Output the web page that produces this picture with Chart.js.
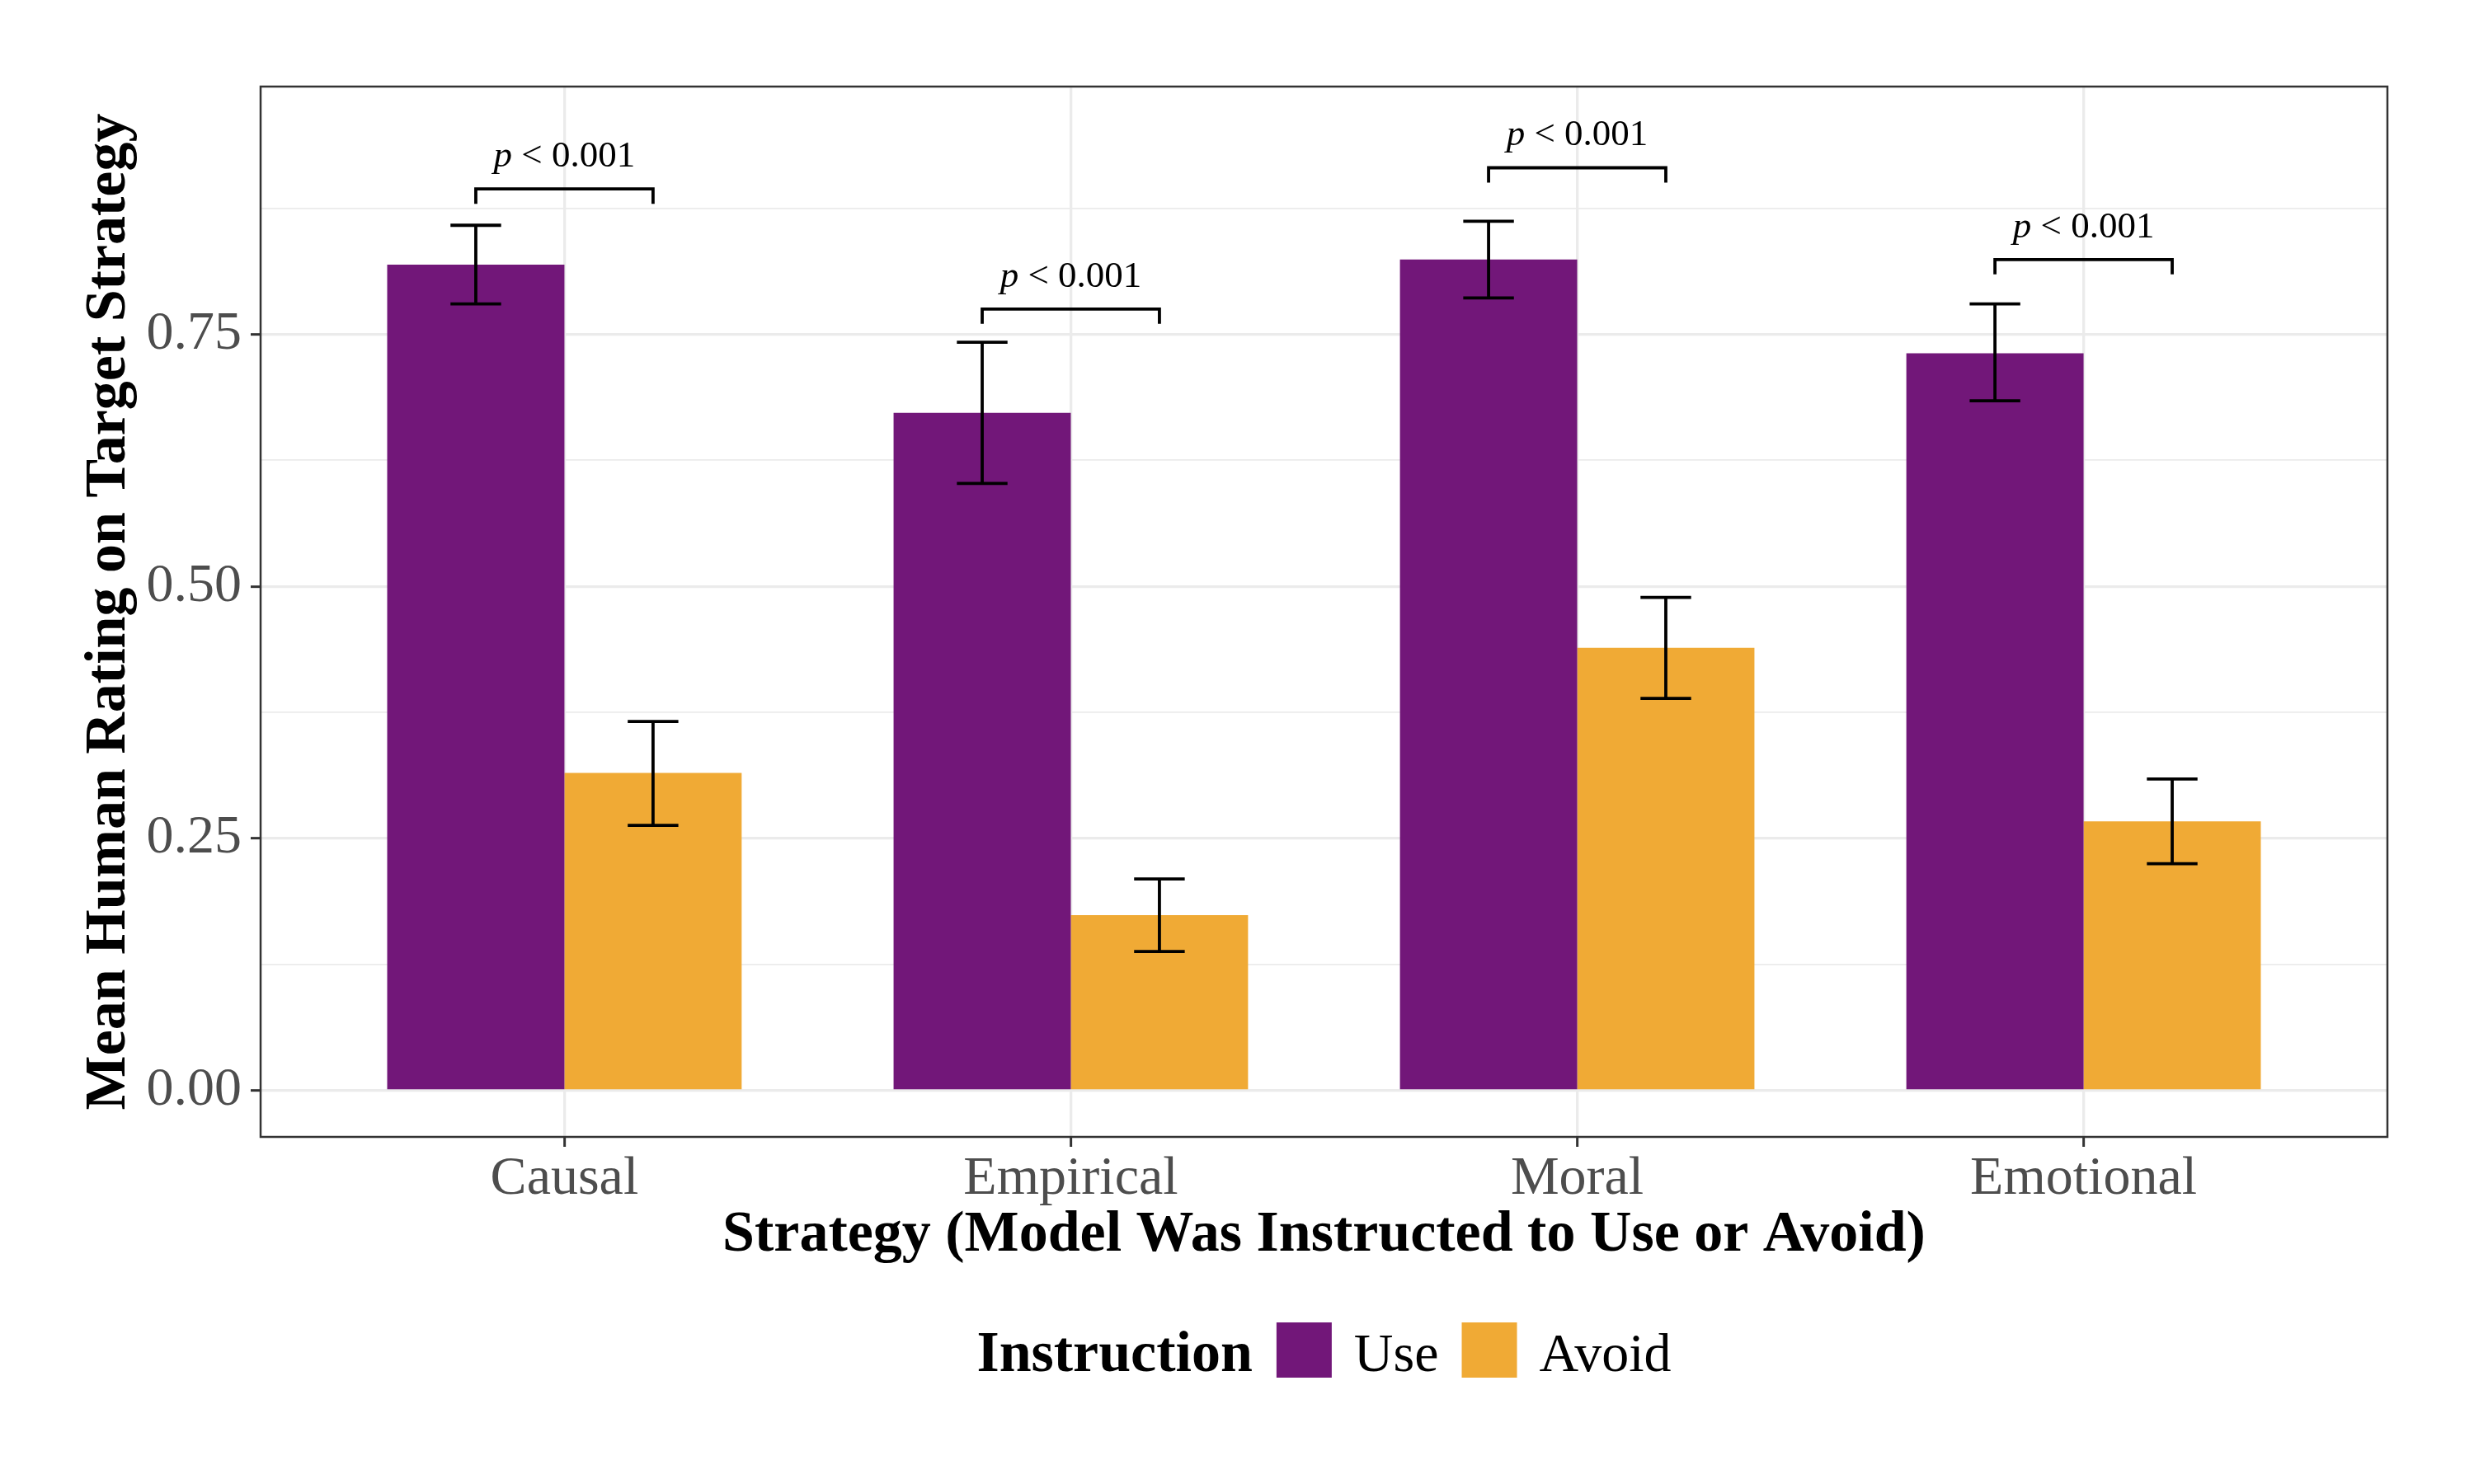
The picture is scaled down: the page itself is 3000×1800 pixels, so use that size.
<!DOCTYPE html>
<html lang="en">

<head>
    <meta charset="UTF-8">
    <title>Mean Human Rating on Target Strategy</title>
    <script src="https://cdn.jsdelivr.net/npm/chart.js"></script>
    <style>
        html, body { margin: 0; padding: 0; background: #ffffff; }
        #ratingChart { display: block; }
    </style>
</head>

<body>
    <canvas id="ratingChart" width="3000" height="1800" style="width:3000px;height:1800px"></canvas>

    <script>
        // values
        const categories = ['Causal', 'Empirical', 'Moral', 'Emotional'];
        const useMeans = [0.819, 0.672, 0.824, 0.731];
        const useLower = [0.780, 0.602, 0.786, 0.684];
        const useUpper = [0.858, 0.742, 0.862, 0.780];
        const avoidMeans = [0.315, 0.174, 0.439, 0.267];
        const avoidLower = [0.263, 0.138, 0.389, 0.225];
        const avoidUpper = [0.366, 0.210, 0.489, 0.309];
        const bracketY = [0.894, 0.775, 0.915, 0.824];
        const pText = ['< 0.001', '< 0.001', '< 0.001', '< 0.001'];
        const yTicks = [0, 0.125, 0.25, 0.375, 0.5, 0.625, 0.75, 0.875];
        const seriesNames = ['Use', 'Avoid'];
        const seriesColors = ['#721779', '#F0AA35'];

        const serif = "'Liberation Serif', 'Times New Roman', serif";
        Chart.defaults.font.family = serif;

        const isMajor = v => Math.abs(v * 4 - Math.round(v * 4)) < 1e-6;

        // error bars + significance brackets
        const annotations = {
            id: 'annotations',
            afterDatasetsDraw(chart) {
                const { ctx, scales: { x, y } } = chart;
                const dodge = 0.175, cap = 0.05;
                ctx.save();
                ctx.strokeStyle = '#000000';
                ctx.lineWidth = 3.8;
                ctx.lineCap = 'butt';
                const errBar = (xv, lo, hi) => {
                    const xc = x.getPixelForValue(xv);
                    const x0 = x.getPixelForValue(xv - cap), x1 = x.getPixelForValue(xv + cap);
                    const yl = y.getPixelForValue(lo), yh = y.getPixelForValue(hi);
                    ctx.beginPath();
                    ctx.moveTo(xc, yl); ctx.lineTo(xc, yh);
                    ctx.moveTo(x0, yl); ctx.lineTo(x1, yl);
                    ctx.moveTo(x0, yh); ctx.lineTo(x1, yh);
                    ctx.stroke();
                };
                categories.forEach((c, i) => {
                    errBar(i + 1 - dodge, useLower[i], useUpper[i]);
                    errBar(i + 1 + dodge, avoidLower[i], avoidUpper[i]);

                    const bl = x.getPixelForValue(i + 1 - dodge);
                    const br = x.getPixelForValue(i + 1 + dodge);
                    const by = y.getPixelForValue(bracketY[i]);
                    ctx.beginPath();
                    ctx.moveTo(bl, by + 18); ctx.lineTo(bl, by);
                    ctx.lineTo(br, by); ctx.lineTo(br, by + 18);
                    ctx.stroke();

                    // "p < 0.001" with italic p
                    const it = 'italic 45px ' + serif, rg = '45px ' + serif;
                    ctx.font = it;
                    const wp = ctx.measureText('p').width;
                    ctx.font = rg;
                    const rest = ' ' + pText[i];
                    const wr = ctx.measureText(rest).width;
                    const cx = x.getPixelForValue(i + 1);
                    let tx = cx - (wp + wr) / 2;
                    ctx.fillStyle = '#000000';
                    ctx.textBaseline = 'alphabetic';
                    ctx.textAlign = 'left';
                    ctx.font = it;
                    ctx.fillText('p', tx, by - 27);
                    ctx.font = rg;
                    ctx.fillText(rest, tx + wp, by - 27);
                });
                ctx.restore();
            },
            afterDraw(chart) {
                const { ctx, chartArea: a } = chart;
                ctx.save();
                // panel border
                ctx.strokeStyle = '#333333';
                ctx.lineWidth = 2.5;
                ctx.strokeRect(a.left, a.top, a.right - a.left, a.bottom - a.top);

                // legend: title + keys, centred under the panel
                const box = 67, gapTitle = 29, gapText = 27, gapItem = 28;
                ctx.font = 'bold 70px ' + serif;
                const wt = ctx.measureText('Instruction').width;
                ctx.font = '66px ' + serif;
                const wl = seriesNames.map(n => ctx.measureText(n).width);
                let total = wt + gapTitle;
                wl.forEach((w, k) => { total += box + gapText + w + (k < wl.length - 1 ? gapItem : 0); });
                let lx = (a.left + a.right) / 2 - total / 2;
                const baseY = 1663, boxTop = 1604;
                ctx.fillStyle = '#000000';
                ctx.textAlign = 'left';
                ctx.textBaseline = 'alphabetic';
                ctx.font = 'bold 70px ' + serif;
                ctx.fillText('Instruction', lx, baseY);
                lx += wt + gapTitle;
                ctx.font = '66px ' + serif;
                seriesNames.forEach((n, k) => {
                    ctx.fillStyle = seriesColors[k];
                    ctx.fillRect(lx, boxTop, box, box);
                    lx += box + gapText;
                    ctx.fillStyle = '#000000';
                    ctx.fillText(n, lx, baseY);
                    lx += wl[k] + gapItem;
                });
                ctx.restore();
            }
        };

        const ctx = document.getElementById('ratingChart').getContext('2d');
        const ratingChart = new Chart(ctx, {
            type: 'bar',
            data: {
                datasets: [{
                    label: seriesNames[0],
                    data: useMeans.map((v, i) => ({ x: i + 1, y: v })),
                    backgroundColor: seriesColors[0],
                    borderWidth: 0
                }, {
                    label: seriesNames[1],
                    data: avoidMeans.map((v, i) => ({ x: i + 1, y: v })),
                    backgroundColor: seriesColors[1],
                    borderWidth: 0
                }]
            },
            options: {
                responsive: false,
                animation: false,
                devicePixelRatio: 1,
                categoryPercentage: 0.7,
                barPercentage: 1.0,
                layout: { padding: { top: 105, right: 105, bottom: 255, left: 0 } },
                plugins: {
                    legend: { display: false },
                    tooltip: { enabled: false }
                },
                scales: {
                    x: {
                        type: 'linear',
                        min: 0.4,
                        max: 4.6,
                        offset: false,
                        afterBuildTicks: s => { s.ticks = categories.map((c, i) => ({ value: i + 1 })); },
                        afterFit: s => { s.height = 166; },
                        ticks: {
                            callback: v => categories[Math.round(v) - 1] || '',
                            color: '#4D4D4D',
                            font: { size: 66 },
                            padding: 0,
                            maxRotation: 0,
                            autoSkip: false
                        },
                        grid: {
                            offset: false,
                            color: '#EBEBEB',
                            lineWidth: 3.3,
                            tickColor: '#333333',
                            tickWidth: 3,
                            tickLength: 12
                        },
                        border: { display: false },
                        title: {
                            display: true,
                            text: 'Strategy (Model Was Instructed to Use or Avoid)',
                            color: '#000000',
                            font: { size: 70, weight: 'bold' },
                            padding: { top: 0, bottom: 4 }
                        }
                    },
                    y: {
                        min: -0.0458,
                        max: 0.9955,
                        afterBuildTicks: s => { s.ticks = yTicks.map(v => ({ value: v })); },
                        afterFit: s => { s.width = 316; },
                        ticks: {
                            callback: v => isMajor(v) ? v.toFixed(2) : '',
                            color: '#4D4D4D',
                            font: { size: 66 },
                            padding: 11
                        },
                        grid: {
                            color: '#EBEBEB',
                            lineWidth: c => isMajor(c.tick.value) ? 3.3 : 1.7,
                            tickColor: c => isMajor(c.tick.value) ? '#333333' : 'rgba(0,0,0,0)',
                            tickWidth: 3,
                            tickLength: 12
                        },
                        border: { display: false },
                        title: {
                            display: true,
                            text: 'Mean Human Rating on Target Strategy',
                            color: '#000000',
                            font: { size: 70, weight: 'bold' },
                            padding: { top: 91, bottom: 0 }
                        }
                    }
                }
            },
            plugins: [annotations]
        });
    </script>
</body>

</html>
